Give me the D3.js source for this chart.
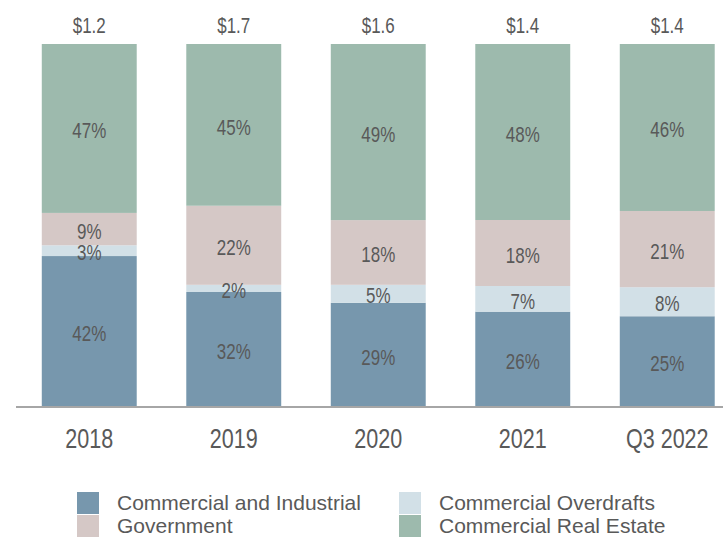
<!doctype html>
<html>
<head>
  <script src="https://cdnjs.cloudflare.com/ajax/libs/d3/7.8.5/d3.min.js"></script>
  <style>
    body { margin: 0; background: #fff; }
    svg { display: block; }
    .narrow { font-family: "Liberation Sans", Arial, sans-serif; fill: #595959; }
    .legend text { font-family: "Liberation Sans", Arial, sans-serif; font-size: 21px; fill: #595959; }
  </style>
</head>
<body>
  <svg id="chart" width="723" height="537"></svg>
<script>
  // loan mix by year, percent of total
  var periods = ["2018", "2019", "2020", "2021", "Q3 2022"];
  var totals = ["$1.2", "$1.7", "$1.6", "$1.4", "$1.4"];
  var commercialIndustrial = [42, 32, 29, 26, 25];
  var overdrafts = [3, 2, 5, 7, 8];
  var government = [9, 22, 18, 18, 21];
  var realEstate = [47, 45, 49, 48, 46];

  var seriesNames = ["Commercial and Industrial", "Commercial Overdrafts", "Government", "Commercial Real Estate"];
  var keys = ["ci", "od", "gov", "cre"];
  var colors = {ci: "#7797ad", od: "#d2e0e7", gov: "#d5c8c6", cre: "#9dbaad"};

  var rows = periods.map(function(p, i) {
    return {period: p, ci: commercialIndustrial[i], od: overdrafts[i], gov: government[i], cre: realEstate[i]};
  });

  var squeeze = 0.77; // no narrow font installed, fake it

  var svg = d3.select("#chart");

  var x = d3.scaleBand()
    .domain(periods)
    .range([17, 739.5])
    .paddingInner(0.343)
    .paddingOuter(0.1715);

  var y = d3.scaleLinear()
    .domain([0, 1])
    .range([407, 44]);

  var stacked = d3.stack()
    .keys(keys)
    .offset(d3.stackOffsetExpand)(rows);

  var layers = svg.selectAll("g.layer")
    .data(stacked)
    .enter().append("g")
    .attr("class", "layer")
    .attr("fill", function(d) { return colors[d.key]; });

  layers.selectAll("rect")
    .data(function(d) { return d; })
    .enter().append("rect")
    .attr("x", function(d) { return x(d.data.period); })
    .attr("y", function(d) { return y(d[1]); })
    .attr("width", x.bandwidth())
    .attr("height", function(d) { return y(d[0]) - y(d[1]); });

  // percent labels inside segments
  stacked.forEach(function(layer) {
    svg.append("g").selectAll("text")
      .data(layer)
      .enter().append("text")
      .attr("class", "narrow")
      .attr("font-size", 22)
      .attr("text-anchor", "middle")
      .attr("transform", function(d) {
        var cx = x(d.data.period) + x.bandwidth() / 2;
        var cy = (y(d[0]) + y(d[1])) / 2 + 2;
        return "translate(" + cx + "," + cy + ") scale(" + squeeze + ",1)";
      })
      .attr("dy", "0.35em")
      .text(function(d) { return d.data[layer.key] + "%"; });
  });

  // totals on top
  svg.append("g").selectAll("text")
    .data(periods)
    .enter().append("text")
    .attr("class", "narrow")
    .attr("font-size", 22)
    .attr("text-anchor", "middle")
    .attr("transform", function(d) {
      return "translate(" + (x(d) + x.bandwidth() / 2) + ",33) scale(" + squeeze + ",1)";
    })
    .text(function(d, i) { return totals[i]; });

  // x axis
  var xAxis = svg.append("g")
    .attr("transform", "translate(0,407)")
    .call(d3.axisBottom(x).tickSize(0).tickPadding(21));
  xAxis.select(".domain")
    .attr("d", "M16,0H723")
    .attr("stroke", "#a6a6a6")
    .attr("stroke-width", 2);
  xAxis.selectAll("text")
    .attr("class", "narrow")
    .attr("font-size", 28)
    .attr("fill", "#595959")
    .attr("transform", "scale(" + squeeze + ",1)");

  // legend
  var legend = svg.append("g").attr("class", "legend");
  var legendPos = [[77, 492], [399, 492], [77, 515], [399, 515]];
  seriesNames.forEach(function(name, i) {
    var g = legend.append("g")
      .attr("transform", "translate(" + legendPos[i][0] + "," + legendPos[i][1] + ")");
    g.append("rect")
      .attr("width", 22)
      .attr("height", 22)
      .attr("fill", colors[keys[i]]);
    g.append("text")
      .attr("x", 40)
      .attr("y", 11)
      .attr("dy", "0.35em")
      .text(name);
  });
</script>
</body>
</html>
